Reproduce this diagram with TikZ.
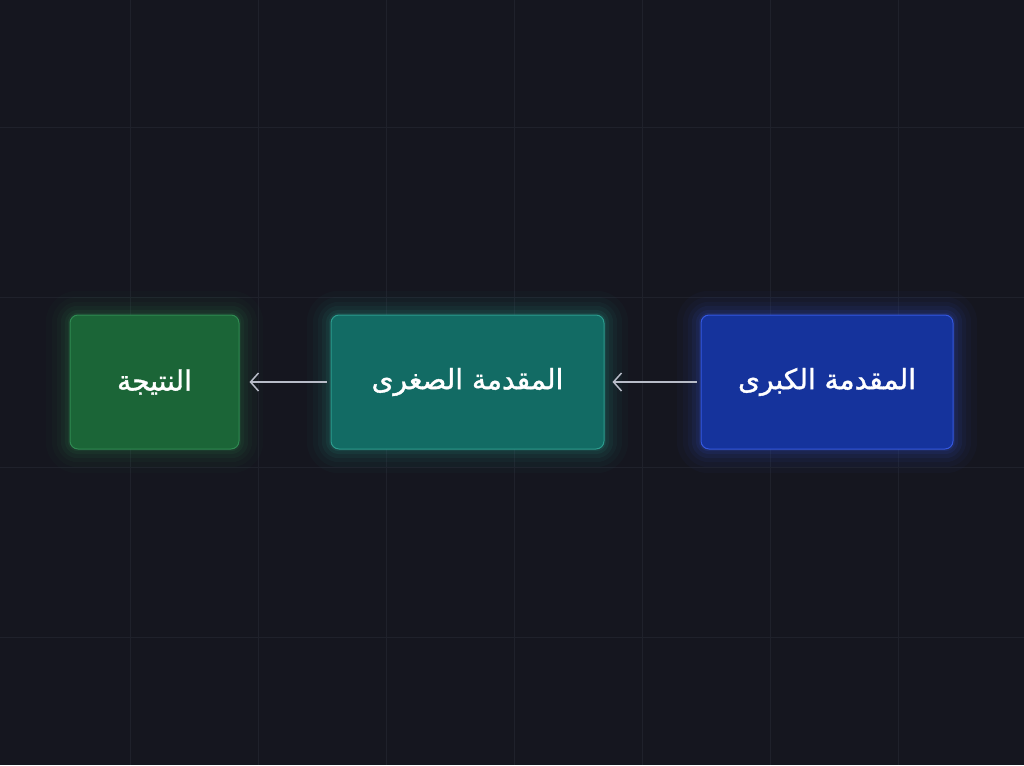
\documentclass[tikz,border=0pt]{standalone}
\usepackage{fontspec}
\usetikzlibrary{arrows.meta}
\TeXXeTstate=1
\newfontfamily\arabicfont[Script=Arabic,FakeBold=1.3]{DejaVu Sans}
\definecolor{bg}{HTML}{15161F}
\definecolor{gridc}{HTML}{1F212B}
\definecolor{gfill}{HTML}{1B6537}
\definecolor{gline}{HTML}{2F8A52}
\definecolor{tfill}{HTML}{126B64}
\definecolor{tline}{HTML}{2C9C8E}
\definecolor{bfill}{HTML}{15339C}
\definecolor{bline}{HTML}{3558E0}
\definecolor{arr}{HTML}{B8BCC8}
\tikzset{
  box/.style={rounded corners=8pt, line width=1pt, inner sep=0pt, text=white,
    font=\arabicfont\fontsize{28}{32}\selectfont},
  conn/.style={draw=arr, line width=1.3pt, -{Straight Barb[length=8pt,width=18pt,line width=1.5pt]}},
}
\newcommand{\glow}[2]{%
  \foreach \r/\o in {24/0.03,18/0.04,13/0.05,9/0.07,5/0.09,2/0.12}{
    \fill[#2, opacity=\o, rounded corners=8pt+\r pt]
      ([xshift=-\r pt,yshift=-\r pt]#1.south west) rectangle ([xshift=\r pt,yshift=\r pt]#1.north east);
  }}
\begin{document}
\begin{tikzpicture}[x=1pt,y=-1pt]
\fill[bg] (0,0) rectangle (1024,765);
\useasboundingbox (0,0) rectangle (1024,765);
\foreach \gx in {130,258,386,514,642,770,898}{
  \draw[gridc, line width=0.8pt] (\gx,0) -- (\gx,765);
}
\foreach \gy in {127,297,467,637}{
  \draw[gridc, line width=0.8pt] (0,\gy) -- (1024,\gy);
}
\coordinate (cmaj) at (827,382);
\coordinate (cmin) at (467.5,382);
\coordinate (cres) at (154.5,382);
\path (cmaj) node[minimum width=252pt, minimum height=134pt, inner sep=0pt] (gmaj) {};
\path (cmin) node[minimum width=273pt, minimum height=134pt, inner sep=0pt] (gmin) {};
\path (cres) node[minimum width=169pt, minimum height=134pt, inner sep=0pt] (gres) {};
\glow{gmaj}{bline}
\glow{gmin}{tline}
\glow{gres}{gline}
\node[box, fill=bfill, draw=bline, minimum width=252pt, minimum height=134pt] (major) at (cmaj) {\beginR المقدمة الكبرى\endR};
\node[box, fill=tfill, draw=tline, minimum width=273pt, minimum height=134pt] (minor) at (cmin) {\beginR المقدمة الصغرى\endR};
\node[box, fill=gfill, draw=gline, minimum width=169pt, minimum height=134pt] (result) at (cres) {\beginR النتيجة\endR};
\draw[conn] ([xshift=-4pt]major.west) -- ([xshift=8pt]minor.east);
\draw[conn] ([xshift=-4pt]minor.west) -- ([xshift=10pt]result.east);
\end{tikzpicture}
\end{document}
